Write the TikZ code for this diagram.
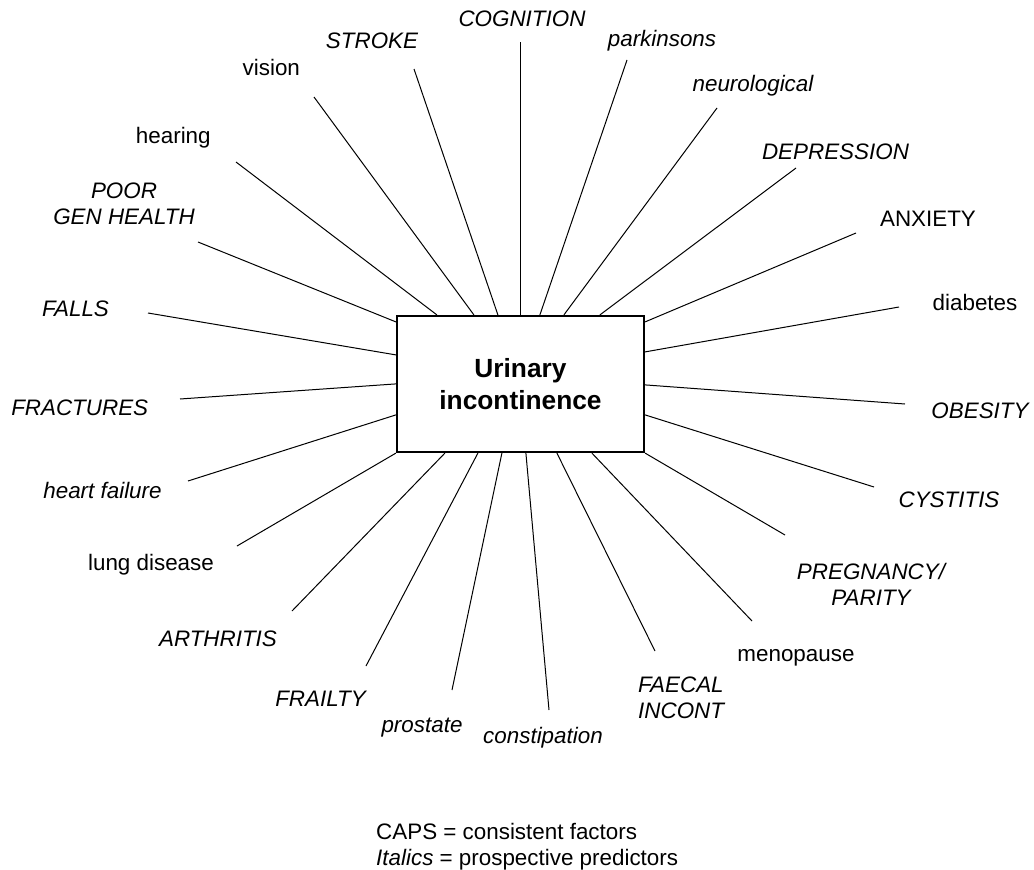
\documentclass[tikz,border=0pt]{standalone}
\usepackage{fontspec}
\setmainfont{Liberation Sans}
\begin{document}
\begin{tikzpicture}[x=1pt,y=-1pt,
  lbl/.style={inner sep=0pt, anchor=base, align=center, font=\fontsize{22.4}{25.8}\selectfont},
  itl/.style={lbl, font=\fontsize{22.4}{25.8}\selectfont\itshape},
  conn/.style={line width=1pt},
  centre/.style={draw, line width=2.2pt, minimum width=247pt, minimum height=136pt, inner sep=0pt,
    align=center, font=\fontsize{26.3}{31.6}\selectfont\bfseries}]
\useasboundingbox (0,0) rectangle (1034,870);

\node[centre] (box) at (520.5,384) {Urinary\\incontinence};

% labels (for two-line labels the base anchor is the last line's baseline)
\node[itl] (cog)  at (522,27)    {COGNITION};
\node[itl] (park) at (662,46.7)  {parkinsons};
\node[itl] (neur) at (753,91.7)  {neurological};
\node[itl] (depr) at (835.5,159.3) {DEPRESSION};
\node[lbl] (anx)  at (928,226)   {ANXIETY};
\node[lbl] (diab) at (975,310)   {diabetes};
\node[itl] (obes) at (980,418)   {OBESITY};
\node[itl] (cyst) at (949,507)   {CYSTITIS};
\node[itl] (preg) at (871,605.5) {PREGNANCY/\\PARITY};
\node[lbl] (meno) at (796,661.7) {menopause};
\node[itl, anchor=base west, align=left] (faec) at (638,718) {FAECAL\\INCONT};
\node[itl] (cons) at (543,743)   {constipation};
\node[itl] (pros) at (422,732.7) {prostate};
\node[itl] (frai) at (320.5,706.7) {FRAILTY};
\node[itl] (arth) at (218,646)   {ARTHRITIS};
\node[lbl] (lung) at (151,570)   {lung disease};
\node[itl] (hear2) at (102.5,498.3) {heart failure};
\node[itl] (frac) at (79.7,415)  {FRACTURES};
\node[itl] (fall) at (75.5,316)  {FALLS};
\node[itl] (poor) at (124,224)   {POOR\\GEN HEALTH};
\node[lbl] (hear) at (173.3,143.3) {hearing};
\node[lbl] (visi) at (271.3,75)  {vision};
\node[itl] (strk) at (372,48.3)  {STROKE};

% free ends of connectors
\coordinate (ecog)  at (520,42);
\coordinate (estrk) at (414,69);
\coordinate (evisi) at (314,97);
\coordinate (ehear) at (236,162);
\coordinate (epoor) at (198,242);
\coordinate (efall) at (148,313);
\coordinate (efrac) at (180,399);
\coordinate (ehf)   at (188,481);
\coordinate (elung) at (237,546);
\coordinate (earth) at (292,611);
\coordinate (efrai) at (366,666);
\coordinate (epros) at (452,690);
\coordinate (econs) at (549,710);
\coordinate (efaec) at (655,651);
\coordinate (emeno) at (752,621);
\coordinate (epreg) at (785,535);
\coordinate (ecyst) at (874,487);
\coordinate (eobes) at (905,404);
\coordinate (ediab) at (899,307);
\coordinate (eanx)  at (856,233);
\coordinate (edepr) at (796,168);
\coordinate (eneur) at (717,108);
\coordinate (epark) at (627,60);

% connectors
\draw[conn] (ecog)  -- ([xshift=-0.5pt]box.north);
\draw[conn] (estrk) -- ([xshift=102pt]box.north west);
\draw[conn] (evisi) -- ([xshift=78pt]box.north west);
\draw[conn] (ehear) -- ([xshift=41pt]box.north west);
\draw[conn] (epoor) -- ([yshift=-7pt]box.north west);
\draw[conn] (efall) -- ([yshift=-40pt]box.north west);
\draw[conn] (efrac) -- ([yshift=-69pt]box.north west);
\draw[conn] (ehf)   -- ([yshift=-100pt]box.north west);
\draw[conn] (elung) -- (box.south west);
\draw[conn] (earth) -- ([xshift=49pt]box.south west);
\draw[conn] (efrai) -- ([xshift=82pt]box.south west);
\draw[conn] (epros) -- ([xshift=106pt]box.south west);
\draw[conn] (econs) -- ([xshift=130pt]box.south west);
\draw[conn] (efaec) -- ([xshift=161pt]box.south west);
\draw[conn] (emeno) -- ([xshift=196pt]box.south west);
\draw[conn] (epreg) -- (box.south east);
\draw[conn] (ecyst) -- ([yshift=-100pt]box.north east);
\draw[conn] (eobes) -- ([yshift=-70pt]box.north east);
\draw[conn] (ediab) -- ([yshift=-37pt]box.north east);
\draw[conn] (eanx)  -- ([yshift=-7pt]box.north east);
\draw[conn] (edepr) -- ([xshift=204pt]box.north west);
\draw[conn] (eneur) -- ([xshift=168pt]box.north west);
\draw[conn] (epark) -- ([xshift=144pt]box.north west);

% legend
\node[lbl, anchor=base west, align=left] (legend) at (376,865)
  {CAPS = consistent factors\\\textit{Italics} = prospective predictors};
\end{tikzpicture}
\end{document}
